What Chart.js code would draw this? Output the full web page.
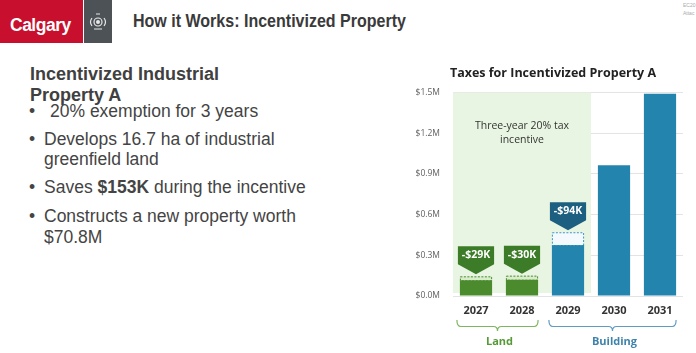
<!DOCTYPE html>
<html>
<head>
<meta charset="utf-8">
<script src="https://cdn.jsdelivr.net/npm/chart.js"></script>
<style>
    body { margin: 0; width: 696px; height: 353px; background: #fff; position: relative; overflow: hidden; font-family: "Liberation Sans", Arial, sans-serif; }
    .abs { position: absolute; white-space: nowrap; }
    #redBox { left: 0; top: 0; width: 83px; height: 43px; background: #c8102e; }
    #redBox span { position: absolute; left: 10px; top: 15px; color: #fff; font: bold 17.5px "Liberation Sans", Arial, sans-serif; letter-spacing: -0.5px; }
    #greyBox { left: 84px; top: 0; width: 28px; height: 43px; background: #4d5257; }
    #slideTitle { left: 133px; top: 11px; font: bold 18px "Liberation Sans", sans-serif; color: #3a3a3a; transform: scaleX(0.89); transform-origin: left center; }
    .tiny { font-size: 5px; color: #aaa; left: 683px; }
    .line { left: 44px; font-size: 17.5px; color: #444; line-height: 20px; }
    .head { left: 30px; font-size: 18px; font-weight: bold; color: #404040; line-height: 20px; }
    .dot { left: 29px; font-size: 17.5px; color: #444; line-height: 20px; }
    #chartBox { left: 410px; top: 56px; width: 286px; height: 297px; }
</style>
</head>
<body>
<div id="redBox" class="abs"><span>Calgary</span></div>
<div id="greyBox" class="abs">
    <svg width="28" height="43" viewBox="0 0 28 43">
        <g fill="none" stroke="#e8e8e8" stroke-width="1.2">
            <circle cx="14" cy="22" r="4"/>
            <path d="M8 18 q-3 4 0 8 M20 18 q3 4 0 8 M10 29 h8 M12 14 h4"/>
        </g>
        <circle cx="14" cy="22" r="2" fill="#e8e8e8"/>
    </svg>
</div>
<div id="slideTitle" class="abs">How it Works: Incentivized Property</div>
<div class="abs tiny" style="top:2px">EC20</div>
<div class="abs tiny" style="top:10px">Attac</div>

<div class="abs head" style="top:64px">Incentivized Industrial</div>
<div class="abs head" style="top:85px">Property A</div>
<div class="abs dot" style="top:101px">•</div>
<div class="abs line" style="top:101px; left:50px">20% exemption for 3 years</div>
<div class="abs dot" style="top:129px">•</div>
<div class="abs line" style="top:129px">Develops 16.7 ha of industrial</div>
<div class="abs line" style="top:149px">greenfield land</div>
<div class="abs dot" style="top:177px">•</div>
<div class="abs line" style="top:177px">Saves <b>$153K</b> during the incentive</div>
<div class="abs dot" style="top:206px">•</div>
<div class="abs line" style="top:206px">Constructs a new property worth</div>
<div class="abs line" style="top:227px">$70.8M</div>

<div id="chartBox" class="abs"><canvas id="taxChart" width="286" height="297"></canvas></div>

<script>
const years = ['2027', '2028', '2029', '2030', '2031'];
// tax actually paid, $M
const taxPaid = [0.116, 0.120, 0.376, 0.963, 1.49];
// exempted part during the incentive, $M
const exemption = [0.029, 0.030, 0.094, 0, 0];
const savingLabels = ['-$29K', '-$30K', '-$94K', '', ''];
const yTicks = [0, 0.3, 0.6, 0.9, 1.2, 1.5];
const groupNames = ['Land', 'Building'];
const groupStart = [0, 2];
const groupEnd = [1, 4];
const incentiveYears = [0, 2];
const incentiveText = ['Three-year 20% tax', 'incentive'];

const GREEN = '#4b8b2e', GREEN_DARK = '#3c7b27';
const BLUE = '#2384ad', BLUE_DARK = '#1c5f80';
const isLand = i => i <= groupEnd[0];
const FONT = '"Open Sans", "Noto Sans", sans-serif';

const extras = {
    id: 'extras',
    beforeDatasetsDraw(chart) {
        const { ctx, chartArea, scales } = chart;
        const x = scales.x, y = scales.y;
        const half = (x.getPixelForValue(1) - x.getPixelForValue(0)) / 2;
        const left = x.getPixelForValue(incentiveYears[0]) - half;
        const right = x.getPixelForValue(incentiveYears[1]) + half;
        const top = y.getPixelForValue(yTicks[yTicks.length - 1]);
        ctx.save();
        ctx.fillStyle = '#e8f5e2';
        ctx.fillRect(left, top, right - left, chartArea.bottom - 3 - top);
        ctx.fillStyle = '#333';
        ctx.font = '10.5px ' + FONT;
        ctx.textAlign = 'center';
        ctx.textBaseline = 'middle';
        const cy = y.getPixelForValue(1.2);
        ctx.fillText(incentiveText[0], (left + right) / 2, cy - 7);
        ctx.fillText(incentiveText[1], (left + right) / 2, cy + 7);
        ctx.restore();
    },
    afterDatasetsDraw(chart) {
        const { ctx, chartArea } = chart;
        const paid = chart.getDatasetMeta(0).data;
        const ex = chart.getDatasetMeta(1).data;
        ctx.save();
        ex.forEach((bar, i) => {
            if (!exemption[i]) return;
            const w = bar.width;
            // dashed outline of the exempted part
            ctx.setLineDash([2, 1.5]);
            ctx.lineWidth = 1;
            ctx.strokeStyle = isLand(i) ? GREEN : '#3e95bf';
            ctx.strokeRect(bar.x - w / 2 + 0.5, bar.y + 0.5, w - 1, bar.base - bar.y);
            ctx.setLineDash([]);
            // callout
            const tip = bar.y - 2;
            const cw = w + 4, x0 = bar.x - cw / 2;
            ctx.fillStyle = isLand(i) ? GREEN_DARK : BLUE_DARK;
            ctx.beginPath();
            ctx.moveTo(x0, tip - 28);
            ctx.lineTo(x0 + cw, tip - 28);
            ctx.lineTo(x0 + cw, tip - 10);
            ctx.lineTo(bar.x, tip);
            ctx.lineTo(x0, tip - 10);
            ctx.closePath();
            ctx.fill();
            ctx.fillStyle = '#fff';
            ctx.font = 'bold 10.5px ' + FONT;
            ctx.textAlign = 'center';
            ctx.textBaseline = 'middle';
            ctx.fillText(savingLabels[i], bar.x, tip - 19);
        });
        // braces with group names
        const b = chartArea.bottom;
        groupNames.forEach((name, g) => {
            const a = paid[groupStart[g]], z = paid[groupEnd[g]];
            const x1 = a.x - a.width / 2 - 3, x2 = z.x + z.width / 2;
            const xm = (x1 + x2) / 2, r = 4;
            const col = g === 0 ? '#7db560' : '#5f9cc0';
            ctx.strokeStyle = col;
            ctx.lineWidth = 1.2;
            ctx.beginPath();
            ctx.moveTo(x1, b + 24);
            ctx.quadraticCurveTo(x1, b + 30.5, x1 + r, b + 30.5);
            ctx.lineTo(xm - r, b + 30.5);
            ctx.quadraticCurveTo(xm, b + 30.5, xm, b + 35);
            ctx.quadraticCurveTo(xm, b + 30.5, xm + r, b + 30.5);
            ctx.lineTo(x2 - r, b + 30.5);
            ctx.quadraticCurveTo(x2, b + 30.5, x2, b + 24);
            ctx.stroke();
            ctx.fillStyle = g === 0 ? '#559a37' : '#3f83ab';
            ctx.font = 'bold 11px ' + FONT;
            ctx.textAlign = 'center';
            ctx.textBaseline = 'middle';
            ctx.fillText(name, xm + 2, b + 46);
        });
        ctx.restore();
    }
};

new Chart(document.getElementById('taxChart'), {
    type: 'bar',
    data: {
        labels: years,
        datasets: [{
            data: taxPaid,
            backgroundColor: years.map((_, i) => isLand(i) ? GREEN : BLUE),
            stack: 's'
        }, {
            data: exemption,
            backgroundColor: years.map((_, i) => isLand(i) ? '#d9edcd' : '#f3f9fc'),
            stack: 's'
        }]
    },
    options: {
        responsive: false,
        animation: false,
        datasets: { bar: { barPercentage: 0.7, categoryPercentage: 1 } },
        plugins: {
            legend: { display: false },
            tooltip: { enabled: false },
            title: {
                display: true,
                text: 'Taxes for Incentivized Property A',
                color: '#222',
                font: { family: FONT, size: 12.5, weight: 'bold' },
                padding: { top: 10, bottom: 11.5 }
            }
        },
        scales: {
            x: {
                stacked: true,
                grid: { display: false, drawTicks: false },
                border: { display: false },
                ticks: { color: '#333', font: { family: FONT, size: 11, weight: 'bold' }, padding: 8 },
                afterFit(scale) { scale.height = 57; }
            },
            y: {
                stacked: true,
                min: 0,
                max: 1.5,
                afterBuildTicks(scale) { scale.ticks = yTicks.map(v => ({ value: v })); },
                grid: { color: '#e3e3e3', drawTicks: false },
                border: { display: false },
                ticks: {
                    color: '#5f5f5f',
                    font: { family: FONT, size: 8.5 },
                    padding: 13,
                    callback: v => '$' + v.toFixed(1) + 'M'
                },
                afterFit(scale) { scale.width = 43; }
            },
            // empty right-hand strip so the plot ends before the canvas edge
            yRight: {
                position: 'right',
                grid: { display: false, drawTicks: false },
                border: { display: false },
                ticks: { display: false },
                afterFit(scale) { scale.width = 13; }
            }
        }
    },
    plugins: [extras]
});
</script>
</body>
</html>
